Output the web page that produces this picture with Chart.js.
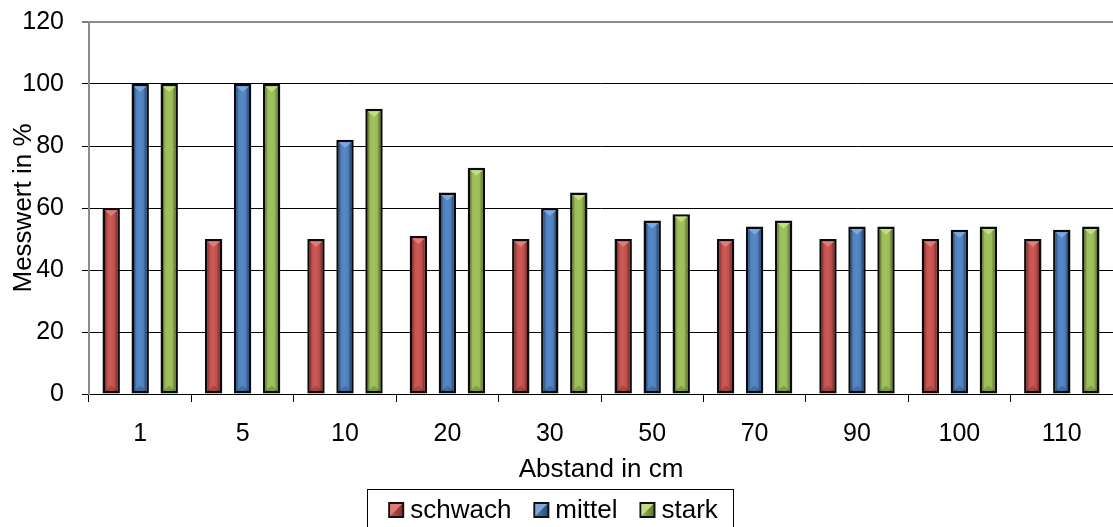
<!DOCTYPE html>
<html>
<head>
<meta charset="utf-8">
<script src="https://cdn.jsdelivr.net/npm/chart.js@4/dist/chart.umd.min.js"></script>
<style>
  html, body { margin: 0; padding: 0; background: #fff; }
  #wrap { width: 1113px; height: 527px; position: relative; }
</style>
</head>
<body>
<div id="wrap"><canvas id="c" width="1113" height="527"></canvas></div>
<script>
const categories = ['1', '5', '10', '20', '30', '50', '70', '90', '100', '110'];
const schwach = [60, 50, 50, 51, 50, 50, 50, 50, 50, 50];
const mittel  = [100, 100, 82, 65, 60, 56, 54, 54, 53, 53];
const stark   = [100, 100, 92, 73, 65, 58, 56, 54, 54, 54];
const seriesNames = ['schwach', 'mittel', 'stark'];
const yTicks = [0, 20, 40, 60, 80, 100, 120];

const FONT = "'Liberation Sans', Arial, sans-serif";
const palette = [
  { base: '#C0504D', dark: '#7A2B29', light: '#CD5B58', tri: '#E07C79' },
  { base: '#4F81BD', dark: '#27466E', light: '#5489C6', tri: '#7CA8DD' },
  { base: '#9BBB59', dark: '#5A7229', light: '#A0C15C', tri: '#C2DD84' }
];

const shadePlugin = {
  id: 'shade',
  afterDatasetsDraw(chart) {
    const ctx = chart.ctx;
    chart.data.datasets.forEach((ds, di) => {
      const meta = chart.getDatasetMeta(di);
      const pal = palette[di];
      meta.data.forEach(el => {
        const p = el.getProps(['x', 'y', 'base', 'width'], true);
        const bw = 2.5;
        const l = p.x - p.width / 2 + bw, r = p.x + p.width / 2 - bw;
        const t = p.y + bw, b = p.base - bw;
        if (b <= t) return;
        const g = ctx.createLinearGradient(l, 0, r, 0);
        g.addColorStop(0, pal.dark);
        g.addColorStop(0.18, pal.base);
        g.addColorStop(0.45, pal.light);
        g.addColorStop(0.75, pal.base);
        g.addColorStop(1, pal.dark);
        ctx.save();
        ctx.fillStyle = g;
        ctx.fillRect(l, t, r - l, b - t);
        ctx.fillStyle = pal.tri;
        ctx.beginPath();
        ctx.moveTo(l, t);
        ctx.lineTo(r, t);
        ctx.lineTo(p.x, t + (r - l) * 0.45);
        ctx.closePath();
        ctx.fill();
        ctx.fillStyle = 'rgba(0,0,0,0.18)';
        ctx.beginPath();
        ctx.moveTo(l, b);
        ctx.lineTo(r, b);
        ctx.lineTo(p.x, b - (r - l) * 0.45);
        ctx.closePath();
        ctx.fill();
        ctx.restore();
      });
    });
  }
};

const legendPlugin = {
  id: 'boxLegend',
  afterDraw(chart) {
    const ctx = chart.ctx;
    ctx.save();
    ctx.font = "26px " + FONT;
    const sq = 16, gapText = 6, gapItem = 22;
    let total = 0;
    const widths = seriesNames.map(n => ctx.measureText(n).width);
    widths.forEach((w, i) => { total += sq + gapText + w + (i < widths.length - 1 ? gapItem : 0); });
    const cx = 553;
    let x = cx - total / 2;
    const boxTop = 489;
    ctx.strokeStyle = '#000';
    ctx.lineWidth = 1;
    ctx.strokeRect(367.5, boxTop + 0.5, 366, 60);
    const baseY = boxTop + 29;
    seriesNames.forEach((n, i) => {
      const pal = palette[i];
      ctx.fillStyle = '#111';
      ctx.fillRect(x, baseY - sq, sq, sq);
      const g = ctx.createLinearGradient(x, 0, x + sq, 0);
      g.addColorStop(0, pal.light);
      g.addColorStop(1, pal.dark);
      ctx.fillStyle = g;
      ctx.fillRect(x + 2, baseY - sq + 2, sq - 4, sq - 4);
      ctx.fillStyle = pal.tri;
      ctx.beginPath();
      ctx.moveTo(x + 2, baseY - sq + 2);
      ctx.lineTo(x + sq - 2, baseY - sq + 2);
      ctx.lineTo(x + 2, baseY - 2);
      ctx.closePath();
      ctx.fill();
      ctx.fillStyle = '#000';
      ctx.textBaseline = 'alphabetic';
      ctx.textAlign = 'left';
      ctx.fillText(n, x + sq + gapText, baseY);
      x += sq + gapText + widths[i] + gapItem;
    });
    ctx.restore();
  }
};

const datasets = [schwach, mittel, stark].map((vals, i) => ({
  label: seriesNames[i],
  data: vals,
  backgroundColor: palette[i].base,
  borderColor: '#0a0a0a',
  borderWidth: 2.5,
  borderSkipped: false,
  categoryPercentage: 0.85,
  barPercentage: 0.6
}));

new Chart(document.getElementById('c'), {
  type: 'bar',
  data: { labels: categories, datasets },
  plugins: [shadePlugin, legendPlugin],
  options: {
    responsive: false,
    animation: false,
    events: [],
    layout: { padding: { top: 22, right: 0, bottom: 42, left: 0 } },
    plugins: {
      legend: { display: false },
      tooltip: { enabled: false }
    },
    scales: {
      x: {
        offset: true,
        afterFit(scale) {
          scale.height = 91;
          scale.paddingLeft = 0; scale.paddingRight = 0;
          scale.paddingTop = 0; scale.paddingBottom = 0;
        },
        grid: {
          offset: true,
          drawOnChartArea: false,
          drawTicks: true,
          tickLength: 8,
          tickColor: '#000',
          tickWidth: 1
        },
        border: { display: true, color: '#000', width: 1 },
        ticks: {
          color: '#000',
          padding: 17,
          maxRotation: 0,
          autoSkip: false,
          font: { family: FONT, size: 25 }
        },
        title: {
          display: true,
          text: 'Abstand in cm',
          color: '#000',
          font: { family: FONT, size: 26 },
          padding: { top: 5, bottom: 0 }
        }
      },
      y: {
        min: 0,
        max: 120,
        afterFit(scale) {
          scale.width = 89;
          scale.paddingTop = 0; scale.paddingBottom = 0;
          scale.paddingLeft = 0; scale.paddingRight = 0;
        },
        afterBuildTicks(scale) { scale.ticks = yTicks.map(v => ({ value: v })); },
        grid: {
          color: c => (c.tick && c.tick.value === 120 ? '#8c8c8c' : '#000'),
          lineWidth: c => (c.tick && c.tick.value === 120 ? 2 : 1),
          drawTicks: true,
          tickLength: 7,
          tickColor: '#000',
          tickWidth: 1
        },
        border: { display: true, color: '#8c8c8c', width: 2 },
        ticks: {
          color: '#000',
          padding: 18,
          font: { family: FONT, size: 25 }
        },
        title: {
          display: true,
          text: 'Messwert in %',
          color: '#000',
          font: { family: FONT, size: 26 },
          padding: { top: 8, bottom: 0 }
        }
      }
    }
  }
});
</script>
</body>
</html>
